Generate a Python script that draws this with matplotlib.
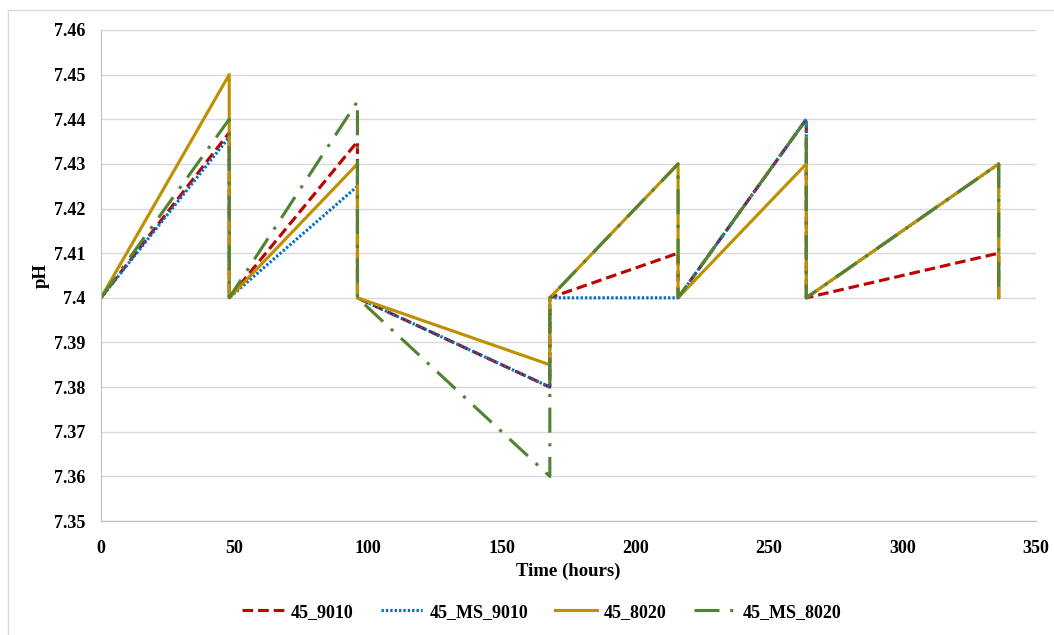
import matplotlib.pyplot as plt
import numpy as np
from matplotlib.lines import Line2D

plt.rcParams['font.family'] = ['Liberation Serif', 'DejaVu Serif']

# time points (hours), vertical drops drawn as repeated x values
hours = [0, 48, 48, 96, 96, 168, 168, 216, 216, 264, 264, 336, 336]

ph_9010 = [7.40, 7.437, 7.40, 7.435, 7.40, 7.38, 7.40, 7.41, 7.40, 7.44, 7.40, 7.41, 7.40]
ph_ms_9010 = [7.40, 7.436, 7.40, 7.425, 7.40, 7.38, 7.40, 7.40, 7.40, 7.44, 7.40, 7.43, 7.40]
ph_8020 = [7.40, 7.45, 7.40, 7.43, 7.40, 7.385, 7.40, 7.43, 7.40, 7.43, 7.40, 7.43, 7.40]
ph_ms_8020 = [7.40, 7.44, 7.40, 7.444, 7.40, 7.36, 7.40, 7.43, 7.40, 7.44, 7.40, 7.43, 7.40]

names = ['45_9010', '45_MS_9010', '45_8020', '45_MS_8020']
colors = ['#C00000', '#0070C0', '#BF9000', '#548235']

fig = plt.figure(figsize=(10.54, 6.35), dpi=100)
ax = fig.add_axes([0.0958, 0.1795, 0.8872, 0.7733])

# faint chart-area border (top and left edge visible in the original)
fig.add_artist(Line2D([8/1054, 8/1054], [0, 1 - 10/635], color='#d9d9d9', lw=1,
                      transform=fig.transFigure))
fig.add_artist(Line2D([8/1054, 1], [1 - 10/635, 1 - 10/635], color='#d9d9d9', lw=1,
                      transform=fig.transFigure))

lw = 2.25
ax.plot(hours, ph_9010, color=colors[0], lw=lw, linestyle=(0, (3.4, 1.6)), label=names[0])
ax.plot(hours, ph_ms_9010, color=colors[1], lw=lw, linestyle=(0, (0.75, 0.65)),
        label=names[1])
ax.plot(hours, ph_8020, color=colors[2], lw=lw, linestyle='-', label=names[2])
ax.plot(hours, ph_ms_8020, color=colors[3], lw=lw, linestyle=(0, (8, 3.4, 1, 3.4)),
        label=names[3])

ax.set_xlim(0, 350)
ax.set_ylim(7.35, 7.46)
ax.set_xticks(np.arange(0, 351, 50))
yt = np.round(np.arange(7.35, 7.4601, 0.01), 2)
ax.set_yticks(yt)
ax.set_yticklabels(['{:g}'.format(v) for v in yt])

for lab in ax.get_xticklabels() + ax.get_yticklabels():
    lab.set_fontweight('bold')
    lab.set_fontsize(13)
ax.tick_params(axis='x', length=0, pad=14)
ax.tick_params(axis='y', length=0, pad=11)

ax.yaxis.grid(True, color='#d9d9d9', lw=1)
ax.set_axisbelow(True)
for s in ['top', 'right']:
    ax.spines[s].set_visible(False)
ax.spines['left'].set_color('#bfbfbf')
ax.spines['bottom'].set_color('#bfbfbf')

ax.set_xlabel('Time (hours)', fontsize=13.5, fontweight='bold', labelpad=4)
ax.set_ylabel('pH', fontsize=13.5, fontweight='bold', labelpad=3)

leg = fig.legend(loc='center', bbox_to_anchor=(0.514, 0.036), ncol=4, frameon=False,
                 handlelength=2.3, columnspacing=1.5, handletextpad=0.4,
                 prop={'weight': 'bold', 'size': 13})

fig.savefig('out.png', dpi=100)
